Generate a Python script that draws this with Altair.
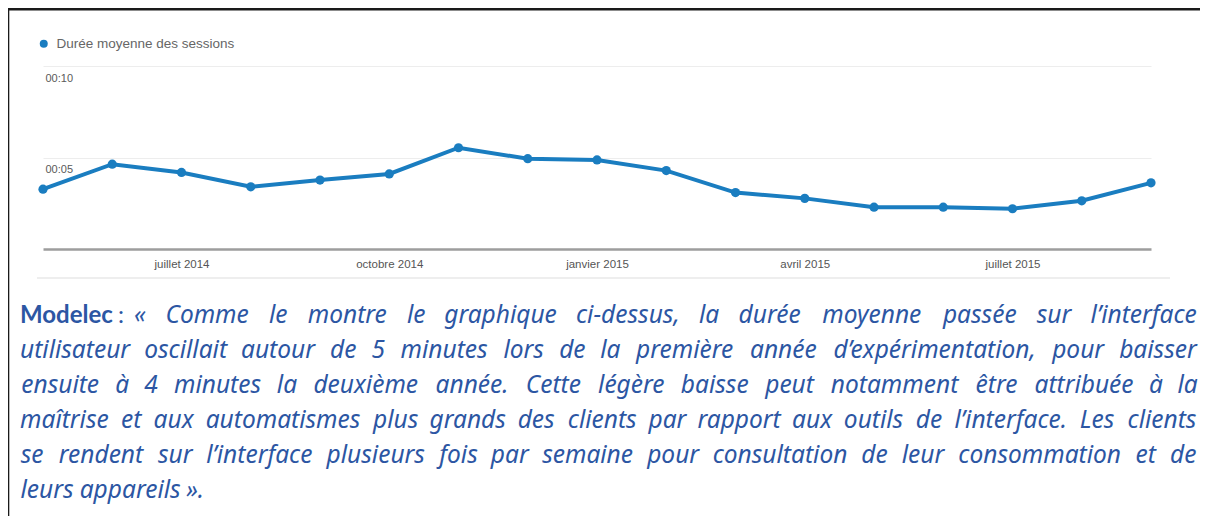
import altair as alt
import pandas as pd

# ---------------- data ----------------
months = ["mai 2014", "juin 2014", "juillet 2014", "août 2014", "septembre 2014",
          "octobre 2014", "novembre 2014", "décembre 2014", "janvier 2015",
          "février 2015", "mars 2015", "avril 2015", "mai 2015", "juin 2015",
          "juillet 2015", "août 2015", "septembre 2015"]
durations_s = [196, 278, 251, 204, 226, 246, 332, 296, 292, 257, 185, 166,
               137, 137, 132, 158, 217]
series_name = "Durée moyenne des sessions"
x_tick_months = ["juillet 2014", "octobre 2014", "janvier 2015", "avril 2015", "juillet 2015"]
y_tick_values = [300, 600]
y_tick_labels = ["00:05", "00:10"]

speaker = "Modelec"
colon = ":"
quote_lines = [
    "« Comme le montre le graphique ci-dessus, la durée moyenne passée sur l’interface",
    "utilisateur oscillait autour de 5 minutes lors de la première année d’expérimentation, pour baisser",
    "ensuite à 4 minutes la deuxième année. Cette légère baisse peut notamment être attribuée à la",
    "maîtrise et aux automatismes plus grands des clients par rapport aux outils de l’interface. Les clients",
    "se rendent sur l’interface plusieurs fois par semaine pour consultation de leur consommation et de",
    "leurs appareils »."]

# ---------------- layout / style ----------------
W, H = 1192, 508
LINE_COLOR = "#1a7dc0"
TEXT_COLOR = "#2c56a3"
AXIS_FONT = "Liberation Sans Narrow, Liberation Sans, Arial"
QUOTE_FONT = "Noto Sans"
QUOTE_SIZE = 24.5
Y0_PX, Y1_PX = 241, 58
TEXT_LEFT, TEXT_RIGHT = 12, 1189
FIRST_LINE_LEFT = 126
BASELINE0, LINE_STEP = 315, 35

# approximate relative advance widths (1/1000 em) used to justify the quote
CHAR_W = {" ": 260, ",": 246, ".": 266, ":": 266, "’": 176, "-": 322,
          "«": 498, "»": 498, "4": 572, "5": 572, "C": 633, "L": 519,
          "a": 561, "b": 615, "c": 480, "d": 615, "e": 564, "f": 344, "g": 546,
          "h": 618, "i": 258, "j": 258, "k": 534, "l": 258, "m": 936, "n": 618,
          "o": 605, "p": 615, "q": 615, "r": 409, "s": 479, "t": 361, "u": 618,
          "v": 502, "w": 774, "x": 520, "y": 502, "z": 463,
          "é": 564, "è": 564, "ê": 564, "à": 561, "î": 258}


def raw_w(s):
    return sum(CHAR_W.get(c, 560) for c in s) / 1000.0


# calibration: the 4th line measured 1068 px wide in Noto Sans Italic 24px
CAL = 1068.0 / (raw_w(quote_lines[3]) * 24)


def word_w(s):
    return raw_w(s) * QUOTE_SIZE * CAL


rows = []
for li, line in enumerate(quote_lines):
    words = line.split(" ")
    left = FIRST_LINE_LEFT if li == 0 else TEXT_LEFT
    widths = [word_w(w) for w in words]
    if li < len(quote_lines) - 1 and len(words) > 1:
        gap = (TEXT_RIGHT - left - sum(widths)) / (len(words) - 1)
    else:
        gap = word_w(" ")
    x = left
    for w, ww in zip(words, widths):
        rows.append({"mot": w, "px": x + ww / 2, "py": BASELINE0 + li * LINE_STEP})
        x += ww + gap
words_df = pd.DataFrame(rows)

df = pd.DataFrame({"mois": months, "duree": durations_s, "serie": series_name})

label_expr = ("[" + ",".join(f"'{l}'" for l in y_tick_labels) + "][indexof(["
              + ",".join(str(v) for v in y_tick_values) + "], datum.value)]")

x_enc = alt.X(
    "mois:O",
    scale=alt.Scale(type="point", domain=months, range=[35, 1143], padding=0),
    axis=alt.Axis(values=x_tick_months, title=None, orient="bottom",
                  offset=-(H - Y0_PX), domainColor="#9d9d9d", domainWidth=2.5,
                  ticks=False, labelPadding=9, labelFont=AXIS_FONT,
                  labelFontSize=11.5, labelColor="#555555", labelAngle=0,
                  grid=False),
)
y_enc = alt.Y(
    "duree:Q",
    scale=alt.Scale(domain=[0, 600], range=[Y0_PX, Y1_PX], nice=False, zero=True),
    axis=alt.Axis(values=y_tick_values, labelExpr=label_expr, title=None,
                  orient="left", offset=-37, domain=False, ticks=False,
                  labelAlign="left", labelBaseline="top", labelOffset=6,
                  labelPadding=0, grid=True, gridColor="#ededed", gridWidth=1,
                  labelFont=AXIS_FONT, labelFontSize=11, labelColor="#5a5a5a"),
)

line = alt.Chart(df).mark_line(strokeWidth=4, color=LINE_COLOR).encode(x=x_enc, y=y_enc)

points = alt.Chart(df).mark_circle(size=85, opacity=1).encode(
    x=x_enc, y=y_enc,
    color=alt.Color("serie:N",
                    scale=alt.Scale(domain=[series_name], range=[LINE_COLOR]),
                    legend=alt.Legend(orient="none", legendX=29, legendY=29,
                                      title=None, symbolType="circle",
                                      symbolSize=64, symbolStrokeWidth=0,
                                      labelFont="Liberation Sans", labelFontSize=13.5,
                                      labelColor="#666666", labelOffset=6,
                                      labelLimit=400, padding=0)),
)

main = alt.layer(line, points)

one = pd.DataFrame({"k": [0]})

top_border = alt.Chart(one).mark_rule(color="#1a1a1a", strokeWidth=2.5).encode(
    x=alt.value(0), x2=alt.value(W), y=alt.value(1.2))
left_border = alt.Chart(one).mark_rule(color="#1a1a1a", strokeWidth=2).encode(
    x=alt.value(0.3), y=alt.value(0), y2=alt.value(H))
separator = alt.Chart(one).mark_rule(color="#eeeeee", strokeWidth=2).encode(
    x=alt.value(29), x2=alt.value(1162), y=alt.value(270))

speaker_txt = alt.Chart(pd.DataFrame({"t": [speaker]})).mark_text(
    font="Lato", fontSize=24, fontWeight="bold", color=TEXT_COLOR,
    align="left", baseline="alphabetic").encode(
    x=alt.value(12), y=alt.value(BASELINE0), text="t:N")
colon_txt = alt.Chart(pd.DataFrame({"t": [colon]})).mark_text(
    font="Lato", fontSize=24, color=TEXT_COLOR,
    align="left", baseline="alphabetic").encode(
    x=alt.value(110), y=alt.value(BASELINE0), text="t:N")
quote_txt = alt.Chart(words_df).mark_text(
    font=QUOTE_FONT, fontSize=QUOTE_SIZE, fontStyle="italic", color=TEXT_COLOR,
    align="center", baseline="alphabetic").encode(
    x=alt.X("px:Q", scale=None, axis=None),
    y=alt.Y("py:Q", scale=None, axis=None),
    text="mot:N")

chart = alt.layer(
    separator, main, top_border, left_border,
    speaker_txt, colon_txt, quote_txt,
).resolve_scale(x="independent", y="independent").properties(
    width=W, height=H, padding=0,
    autosize=alt.AutoSizeParams(type="none"),
).configure_view(stroke=None).configure(background="white")

chart.save("out.html", embed_options={"renderer": "svg", "actions": False})
